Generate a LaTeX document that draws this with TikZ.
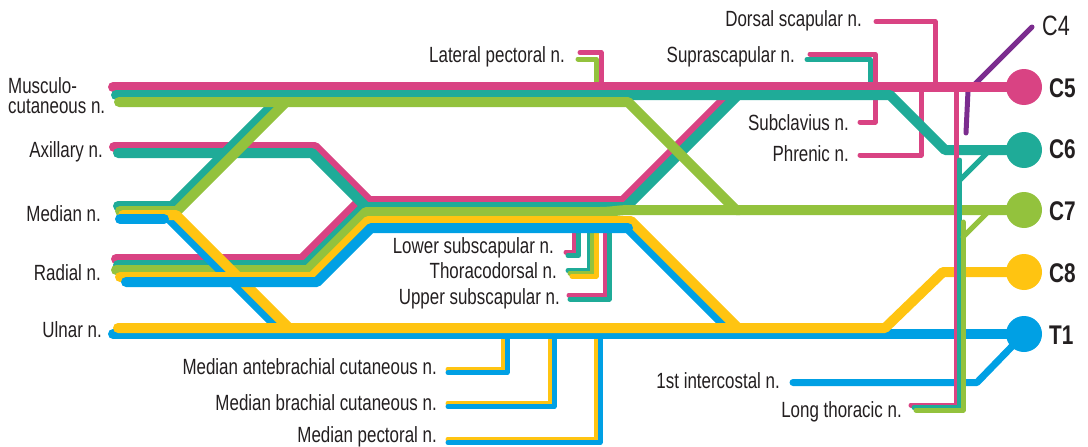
\documentclass[tikz,border=0pt]{standalone}
\usepackage{fontspec}
\setmainfont{Liberation Sans}[FakeStretch=0.77]
\definecolor{cmag}{RGB}{217,67,131}
\definecolor{cteal}{RGB}{31,171,152}
\definecolor{cgreen}{RGB}{147,194,61}
\definecolor{cyel}{RGB}{255,196,17}
\definecolor{cblue}{RGB}{0,160,228}
\definecolor{cpur}{RGB}{123,44,142}
\definecolor{ctext}{RGB}{35,31,32}
\begin{document}
\begin{tikzpicture}[x=1pt,y=-1pt,
  trunk/.style={line width=10pt,line cap=round,line join=round},
  twig/.style={line width=5pt,line cap=round,line join=round},
  lbl/.style={font=\fontsize{22}{24}\selectfont,text=ctext,inner sep=0pt,anchor=base east},
  lblw/.style={lbl,anchor=base west},
  root/.style={circle,minimum size=36pt,inner sep=0pt},
  rootlbl/.style={font=\fontsize{27}{29}\selectfont\bfseries,text=ctext,inner sep=0pt,anchor=base west}]
\useasboundingbox (0,0) rectangle (1088,447);
% root points
\coordinate (r5) at (1024,87);
\coordinate (r6) at (1024,150);
\coordinate (r7) at (1024,210);
\coordinate (r8) at (1024,272);
\coordinate (r1) at (1024,334);
% C4
\draw[twig,cpur] (1032,27) -- (968,91) -- (966,133);
% thin branches (under trunks)
\draw[twig,cmag] (876,21.5) -- (935,21.5) -- (935,87);
\draw[twig,cmag] (810,54) -- (875,54) -- (875,87);
\draw[twig,cteal] (807,59.5) -- (870,59.5) -- (870,95);
\draw[twig,cmag] (875,87) -- (875,122) -- (860,122);
\draw[twig,cmag] (921,87) -- (921,155) -- (860,155);
\draw[twig,cmag] (580,52.5) -- (601,52.5) -- (601,87);
\draw[twig,cgreen] (578,59) -- (596,59) -- (596,100);
% lower subscapular
\draw[twig,cmag] (566,252) -- (574,252) -- (574,225);
\draw[twig,cteal] (568,255.5) -- (578.5,255.5) -- (578.5,225);
% thoracodorsal
\draw[twig,cteal] (568,270.5) -- (589,270.5) -- (589,225);
\draw[twig,cgreen] (570,273) -- (592.5,273) -- (592.5,225);
\draw[twig,cyel] (572,276) -- (596,276) -- (596,225);
% upper subscapular
\draw[twig,cmag] (569,295) -- (605,295) -- (605,225);
\draw[twig,cteal] (570,299) -- (609,299) -- (609,225);
% median branches
\draw[twig,cyel] (448,369) -- (503.5,369) -- (503.5,330);
\draw[twig,cblue] (448,372.5) -- (507,372.5) -- (507,330);
\draw[twig,cyel] (448,403) -- (550,403) -- (550,330);
\draw[twig,cblue] (448,406.5) -- (554,406.5) -- (554,330);
\draw[twig,cyel] (448,439) -- (596,439) -- (596,330);
\draw[twig,cblue] (448,442.5) -- (600,442.5) -- (600,330);
% magenta trunks (C5)
\draw[trunk,cmag] (r5) -- (113,87);
\draw[trunk,cmag] (114,147) -- (315,147) -- (369,201) -- (623,201) -- (737,87);
\draw[trunk,cmag] (116,259) -- (302,259) -- (360,201) -- (369,201);
% teal trunks (C6)
\draw[trunk,cteal] (r6) -- (945,150) -- (890,95) -- (116,95);
\draw[trunk,cteal] (118,153) -- (312,153) -- (366,207) -- (626,207) -- (738,95);
\draw[trunk,cteal] (118,265) -- (306,265) -- (364,207);
\draw[trunk,cteal] (118,206) -- (172,206) -- (282,96);
% green trunks (C7)
\draw[trunk,cgreen] (119,102) -- (628,102) -- (736,210) -- (r7);
\draw[trunk,cgreen] (116,270) -- (308,270) -- (366,212) -- (600,212) .. controls (612,212) and (618,210) .. (630,210) -- (740,210);
\draw[trunk,cgreen] (120,211) -- (177,211) -- (286,102);
% blue parts lying under yellow
\draw[trunk,cblue] (r1) -- (113,334);
\draw[trunk,cblue] (170,219) -- (285,334);
\draw[trunk,cblue] (628,228) -- (734,334);
% yellow trunks (C8)
\draw[trunk,cyel] (r8) -- (943,272) -- (885,328) -- (118,328);
\draw[trunk,cyel] (120,277) -- (312,277) -- (368,221) -- (631,221) -- (738,328);
\draw[trunk,cyel] (123,215) -- (176,215) -- (289,328);
% blue parts lying over yellow (T1)
\draw[trunk,cblue] (126,282) -- (317,282) -- (371,228) -- (628,228);
\draw[trunk,cblue] (120,219) -- (164,219);
% 1st intercostal
\draw[line width=7pt,line cap=round,line join=round,cblue] (793,382.5) -- (977,382.5) -- (r1);
% root circles
\node[root,fill=cmag] (C5) at (r5) {};
\node[root,fill=cteal] (C6) at (r6) {};
\node[root,fill=cgreen] (C7) at (r7) {};
\node[root,fill=cyel] (C8) at (r8) {};
\node[root,fill=cblue] (T1) at (r1) {};
% long thoracic (on top)
\draw[twig,cmag] (956,87) -- (956,405) -- (911,405);
\draw[twig,cteal] (990,150) -- (959.5,180.5);
\draw[twig,cteal] (959.5,160) -- (959.5,407.5) -- (914,407.5);
\draw[twig,cgreen] (990,210) -- (963,237);
\draw[twig,cgreen] (963,222) -- (963,410) -- (916,410);
% root labels
\node[font=\fontsize{28}{30}\selectfont,text=ctext,inner sep=0pt,anchor=base west] (lc4) at (1042,35) {C4};
\node[rootlbl] (lc5) at (1049,97) {C5};
\node[rootlbl] (lc6) at (1049,158) {C6};
\node[rootlbl] (lc7) at (1049,220) {C7};
\node[rootlbl] (lc8) at (1049,282) {C8};
\node[rootlbl] (lt1) at (1049,344) {T1};
% nerve labels
\node[lblw] (mc1) at (8,93) {Musculo-};
\node[lblw] (mc2) at (8,113) {cutaneous n.};
\node[lbl] (ax) at (103,157) {Axillary n.};
\node[lbl] (me) at (101,221) {Median n.};
\node[lbl] (ra) at (101,280) {Radial n.};
\node[lbl] (ul) at (102,337) {Ulnar n.};
\node[lbl] (lp) at (565,62) {Lateral pectoral n.};
\node[lbl] (ss) at (795,62) {Suprascapular n.};
\node[lbl] (ds) at (862,27) {Dorsal scapular n.};
\node[lbl] (sc) at (849,130) {Subclavius n.};
\node[lbl] (ph) at (849,161) {Phrenic n.};
\node[lbl] (ls) at (554,253) {Lower subscapular n.};
\node[lbl] (td) at (557,278) {Thoracodorsal n.};
\node[lbl] (us) at (560,304) {Upper subscapular n.};
\node[lbl] (mac) at (437,374) {Median antebrachial cutaneous n.};
\node[lbl] (mbc) at (437,410) {Median brachial cutaneous n.};
\node[lbl] (mp) at (437,442) {Median pectoral n.};
\node[lbl] (ic) at (780,388) {1st intercostal n.};
\node[lbl] (lt) at (902,417) {Long thoracic n.};
\end{tikzpicture}
\end{document}
